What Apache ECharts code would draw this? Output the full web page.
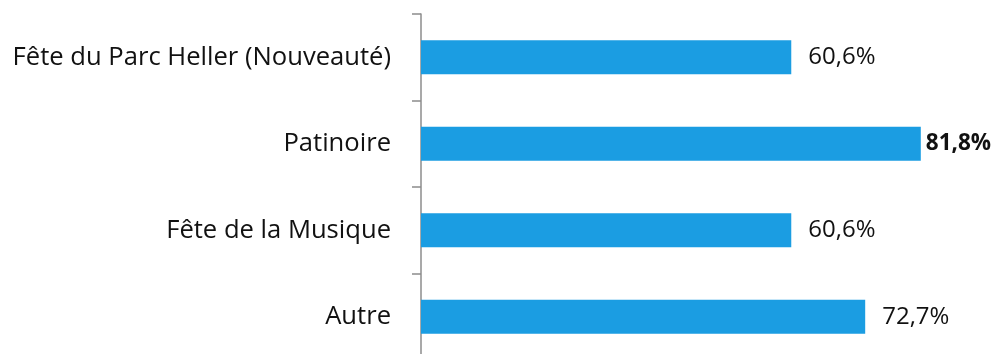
<!DOCTYPE html>
<html>
<head>
<meta charset="utf-8">
<script src="https://cdn.jsdelivr.net/npm/echarts@6/dist/echarts.min.js"></script>
<style>
  html, body { margin: 0; padding: 0; background: #fff; }
  #chart { width: 996px; height: 354px; }
</style>
</head>
<body>
<div id="chart"></div>
<script>
// Participation par événement (part des répondants)
const categories = ['Fête du Parc Heller (Nouveauté)', 'Patinoire', 'Fête de la Musique', 'Autre'];
const values = [0.606, 0.818, 0.606, 0.727];
const highlighted = [false, true, false, false];

const fmt = v => (v * 100).toFixed(1).replace('.', ',') + '%';
const FONT = '"Open Sans", "Liberation Sans", sans-serif';

const chart = echarts.init(document.getElementById('chart'), null, { renderer: 'canvas' });
chart.setOption({
  animation: false,
  backgroundColor: '#ffffff',
  // the 0–100 % scale and the last band run slightly past the canvas edges
  grid: { left: 421, width: 611, top: 14, height: 346, containLabel: false, outerBoundsMode: 'none' },
  xAxis: {
    type: 'value', min: 0, max: 1,
    show: false
  },
  yAxis: {
    type: 'category',
    data: categories,
    inverse: true,
    axisLine: { show: true, lineStyle: { color: '#8c8c8c', width: 1.5 } },
    axisTick: { show: true, length: 9, lineStyle: { color: '#8c8c8c', width: 1.5 } },
    axisLabel: { color: '#111', fontSize: 25.6, fontFamily: FONT, margin: 30 },
    splitLine: { show: false }
  },
  series: [{
    type: 'bar',
    barWidth: 34,
    data: values.map((v, i) => ({
      value: v,
      label: highlighted[i]
        ? { fontWeight: 'bold', fontSize: 22.5, distance: 5 }
        : { fontWeight: 'normal', fontSize: 24, distance: 17 }
    })),
    itemStyle: { color: '#1b9de2' },
    label: {
      show: true, position: 'right',
      color: '#111', fontFamily: FONT,
      formatter: p => fmt(p.value)
    }
  }]
});
</script>
</body>
</html>
